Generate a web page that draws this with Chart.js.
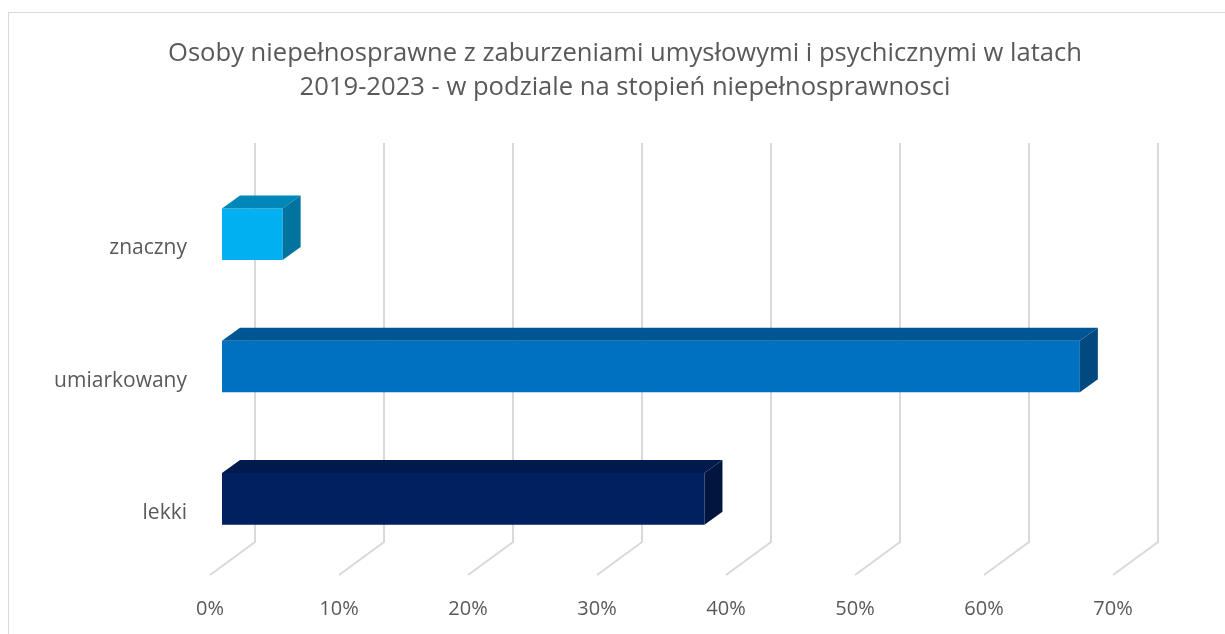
<!DOCTYPE html>
<html>
<head>
<meta charset="utf-8">
<script src="https://cdn.jsdelivr.net/npm/chart.js@4/dist/chart.umd.min.js"></script>
<style>
  body { margin: 0; background: #fff; }
  #wrap { position: relative; width: 1225px; height: 634px; }
</style>
</head>
<body>
<div id="wrap"><canvas id="chart"></canvas></div>
<script>
// dane
var categories = ['znaczny', 'umiarkowany', 'lekki'];
var values = [4.7, 66.5, 37.4];
var frontColors = ['#00B0F0', '#0070C0', '#002060'];
var topColors = ['#0087BA', '#005594', '#001A4D'];
var sideColors = ['#00739F', '#004A80', '#00163F'];
var titleLines = ['Osoby niepełnosprawne z zaburzeniami umysłowymi i psychicznymi w latach',
                  '2019-2023 - w podziale na stopień niepełnosprawnosci'];
var xMax = 70;
var xStep = 10;

var textColor = '#595959';
var fontFamily = "'Open Sans', 'Liberation Sans', sans-serif";

// glebokosc 3D (piksele)
var barDepth = { dx: 18, dy: -13 };
var backWall = { dx: 33, dy: -23 };
var floorFront = { dx: -12, dy: 10 };

var frame3d = {
  id: 'frame3d',
  beforeDraw: function(chart) {
    var ctx = chart.ctx;
    ctx.save();
    ctx.strokeStyle = '#d9d9d9';
    ctx.lineWidth = 1;
    ctx.strokeRect(8.5, 12.5, 1400, 800);
    ctx.restore();
  },
  beforeDatasetsDraw: function(chart) {
    var ctx = chart.ctx;
    var area = chart.chartArea;
    var xs = chart.scales.x;
    var gridTop = area.top + backWall.dy - 2;
    var gridBottom = area.bottom + backWall.dy;
    ctx.save();
    ctx.strokeStyle = '#d9d9d9';
    ctx.lineWidth = 2;
    for (var v = 0; v <= xMax; v += xStep) {
      var px = Math.round(xs.getPixelForValue(v)) + backWall.dx;
      ctx.beginPath();
      ctx.moveTo(px, gridTop);
      ctx.lineTo(px, gridBottom);
      ctx.lineTo(px - backWall.dx + floorFront.dx, area.bottom + floorFront.dy);
      ctx.stroke();
    }
    ctx.restore();
  },
  afterDatasetsDraw: function(chart) {
    var ctx = chart.ctx;
    var meta = chart.getDatasetMeta(0);
    ctx.save();
    meta.data.forEach(function(bar, i) {
      var p = bar.getProps(['x', 'y', 'base', 'height'], true);
      var left = p.base, right = p.x;
      var top = p.y - p.height / 2, bottom = p.y + p.height / 2;
      // gorna sciana
      ctx.fillStyle = topColors[i];
      ctx.beginPath();
      ctx.moveTo(left, top);
      ctx.lineTo(left + barDepth.dx, top + barDepth.dy);
      ctx.lineTo(right + barDepth.dx, top + barDepth.dy);
      ctx.lineTo(right, top);
      ctx.closePath();
      ctx.fill();
      // boczna sciana
      ctx.fillStyle = sideColors[i];
      ctx.beginPath();
      ctx.moveTo(right, top);
      ctx.lineTo(right + barDepth.dx, top + barDepth.dy);
      ctx.lineTo(right + barDepth.dx, bottom + barDepth.dy);
      ctx.lineTo(right, bottom);
      ctx.closePath();
      ctx.fill();
    });
    ctx.restore();
  }
};

new Chart(document.getElementById('chart'), {
  type: 'bar',
  data: {
    labels: categories,
    datasets: [{
      data: values,
      backgroundColor: frontColors,
      borderWidth: 0,
      categoryPercentage: 1,
      barPercentage: 0.39
    }]
  },
  options: {
    indexAxis: 'y',
    responsive: true,
    maintainAspectRatio: false,
    animation: false,
    layout: { padding: { top: 37, right: 0, bottom: 0, left: 25 } },
    plugins: {
      legend: { display: false },
      tooltip: { enabled: false },
      title: {
        display: true,
        text: titleLines,
        color: textColor,
        font: { family: fontFamily, size: 25.6, weight: 'normal', lineHeight: 1.33 },
        padding: { top: 0, bottom: 63 }
      }
    },
    scales: {
      x: {
        min: 0,
        max: xMax,
        grid: { display: false },
        border: { display: false },
        ticks: {
          stepSize: xStep,
          color: textColor,
          font: { family: fontFamily, size: 20 },
          padding: 24,
          labelOffset: floorFront.dx,
          maxRotation: 0,
          callback: function(v) { return v + '%'; }
        },
        afterFit: function(s) { s.height = 69; }
      },
      y: {
        grid: { display: false },
        border: { display: false },
        ticks: {
          color: textColor,
          font: { family: fontFamily, size: 21 },
          padding: 27,
          labelOffset: 14
        },
        afterFit: function(s) { s.width = 197; }
      },
      // pusta os po prawej - tylko rezerwuje miejsce
      spacer: {
        type: 'linear',
        position: 'right',
        grid: { display: false },
        border: { display: false },
        ticks: { display: false },
        afterFit: function(s) { s.width = 100; }
      }
    }
  },
  plugins: [frame3d]
});
</script>
</body>
</html>
